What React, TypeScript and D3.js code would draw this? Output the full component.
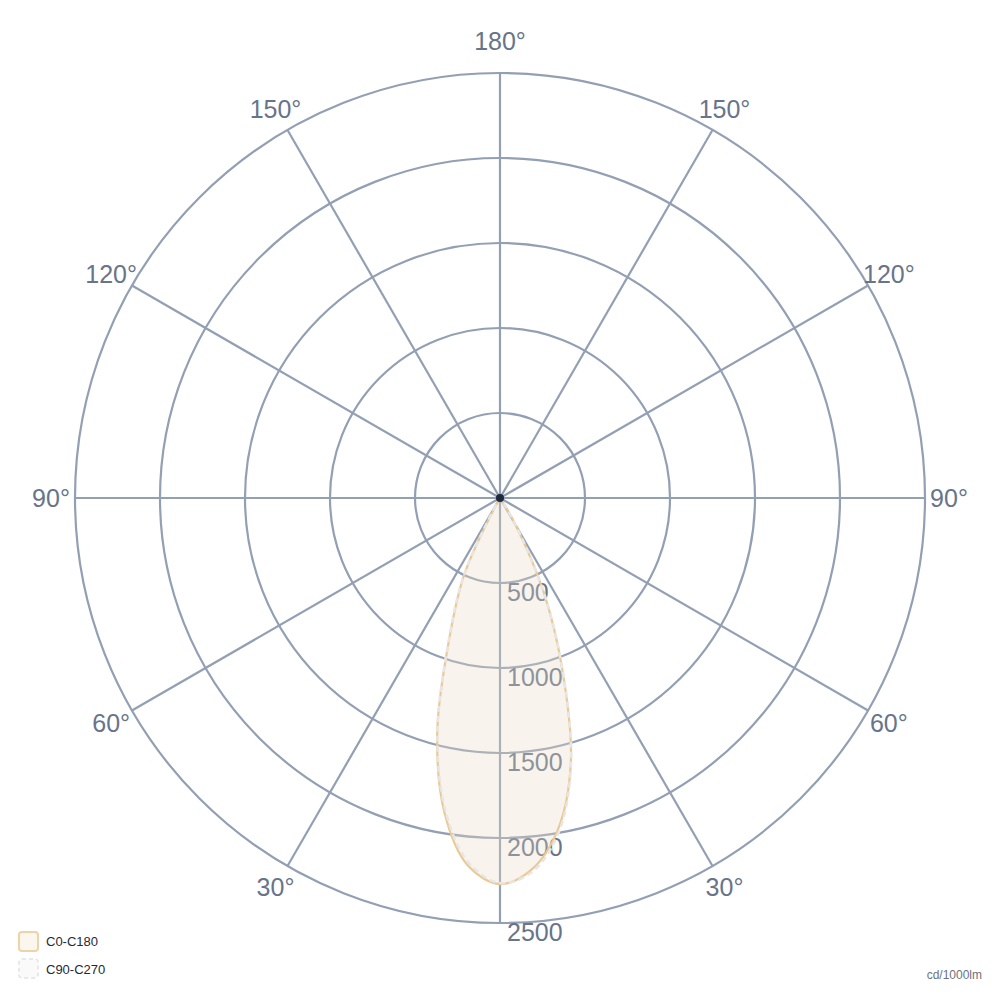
import * as d3 from "d3";

// gamma angles (deg from nadir) for each half-plane
const gammas = [0, 5, 10, 15, 20, 25, 30, 35, 40, 45, 60, 75, 90];

// C0-C180 plane (cd/1000lm)
const c0Values = [2271, 2190, 1975, 1610, 1070, 600, 180, 20, 0, 0, 0, 0, 0];
const c180Values = [2271, 2170, 1880, 1426, 865, 500, 40, 0, 0, 0, 0, 0, 0];

// C90-C270 plane
const c90Values = [2265, 2205, 1995, 1615, 1075, 605, 190, 25, 0, 0, 0, 0, 0];
const c270Values = [2265, 2150, 1860, 1420, 870, 505, 50, 0, 0, 0, 0, 0, 0];

const ringValues = [500, 1000, 1500, 2000, 2500];
const spokeAngles = [0, 30, 60, 90, 120, 150, 180, 210, 240, 270, 300, 330];

const seriesNames = ["C0-C180", "C90-C270"];
const unitLabel = "cd/1000lm";

const W = 1000;
const H = 1000;
const cx = 500;
const cy = 498;
const R = 425;

const gridColor = "#939fb3";
const labelColor = "#67748a";
const font = "'Liberation Sans', Arial, Helvetica, sans-serif";

const rad = d3.scaleLinear().domain([0, 2500]).range([0, R]);

// point for a signed gamma (positive = right side, 0 = bottom)
function toXY(g: number, v: number): [number, number] {
  const a = (g * Math.PI) / 180;
  return [cx + rad(v) * Math.sin(a), cy + rad(v) * Math.cos(a)];
}

function planePoints(right: number[], left: number[]) {
  const pts: { g: number; v: number }[] = [];
  for (let i = gammas.length - 1; i >= 1; i--) pts.push({ g: -gammas[i], v: left[i] });
  for (let i = 0; i < gammas.length; i++) pts.push({ g: gammas[i], v: right[i] });
  // collapse repeated zero points into a single center point
  const out: { g: number; v: number }[] = [];
  pts.forEach((p) => {
    const prev = out[out.length - 1];
    if (p.v === 0 && prev && prev.v === 0) return;
    out.push(p);
  });
  if (out.length > 1 && out[0].v === 0 && out[out.length - 1].v === 0) out.pop();
  return out;
}

const lineRadial = d3
  .lineRadial<{ g: number; v: number }>()
  .angle((d) => Math.PI - (d.g * Math.PI) / 180)
  .radius((d) => rad(d.v))
  .curve(d3.curveCatmullRomClosed.alpha(0.5));

export default function App() {
  const c0Path = lineRadial(planePoints(c0Values, c180Values)) || "";
  const c90Path = lineRadial(planePoints(c90Values, c270Values)) || "";

  return (
    <svg
      width={W}
      height={H}
      style={{ position: "absolute", left: 0, top: 0, background: "#fff" }}
      fontFamily={font}
    >
      {/* rings */}
      {ringValues.map((v) => (
        <circle key={v} cx={cx} cy={cy} r={rad(v)} fill="none" stroke={gridColor} strokeWidth={2.2} />
      ))}
      {/* spokes */}
      {spokeAngles.map((a) => {
        const [x, y] = toXY(a, 2500);
        return <line key={a} x1={cx} y1={cy} x2={x} y2={y} stroke={gridColor} strokeWidth={2.2} />;
      })}
      {/* radial tick labels */}
      {ringValues.map((v) => (
        <text key={v} x={cx + 7} y={cy + rad(v) + 18} fontSize={25} fill={labelColor}>
          {v}
        </text>
      ))}
      {/* angle labels */}
      {spokeAngles
        .filter((a) => a !== 0)
        .map((a) => {
          const extra = a === 180 ? 8 : 0;
          const [x, y] = toXY(a, rad.invert(449 + extra));
          const label = a > 180 ? 360 - a : a;
          return (
            <text
              key={a}
              x={x}
              y={y}
              fontSize={25}
              fill={labelColor}
              textAnchor="middle"
              dominantBaseline="central"
            >
              {label}°
            </text>
          );
        })}
      {/* series */}
      <g transform={`translate(${cx},${cy})`}>
        <path d={c0Path} fill="rgb(232,218,194)" fillOpacity={0.3} stroke="#ebc994" strokeWidth={2.2} strokeLinejoin="round" />
        <path d={c90Path} fill="none" stroke="#e6e6e6" strokeWidth={2.5} strokeDasharray="6,4" />
      </g>
      <circle cx={cx} cy={cy} r={4} fill="#1e293b" />
      {/* legend */}
      <rect x={19} y={932} width={19} height={19} rx={3} fill="#fbf6ee" stroke="#efd3a8" strokeWidth={2} />
      <text x={46} y={946} fontSize={13} fill="#1e293b">
        {seriesNames[0]}
      </text>
      <rect x={19} y={959} width={19} height={19} rx={3} fill="#fafafa" stroke="#e2e2e2" strokeWidth={1.5} strokeDasharray="4,3" />
      <text x={46} y={974} fontSize={13} fill="#1e293b">
        {seriesNames[1]}
      </text>
      <text x={982} y={979} fontSize={12} fill="#6b7280" textAnchor="end">
        {unitLabel}
      </text>
    </svg>
  );
}
